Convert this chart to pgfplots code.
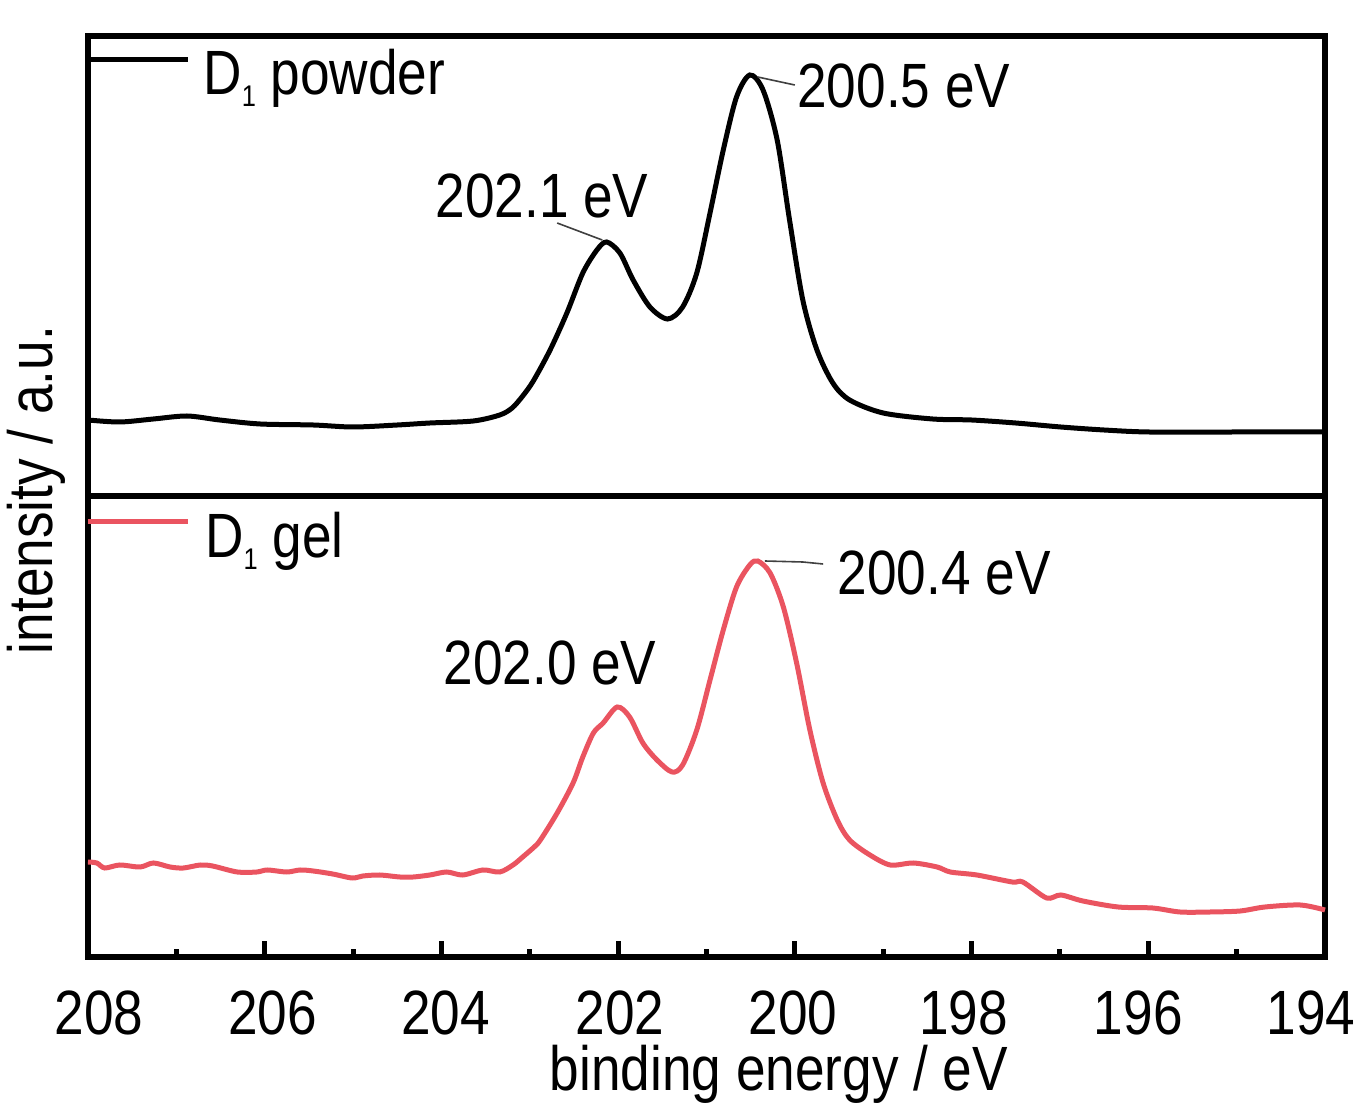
\documentclass[border=0pt]{standalone}
\usepackage{fontspec}
\setmainfont{Liberation Sans}[FakeStretch=0.85]
\usepackage{pgfplots}
\pgfplotsset{compat=1.18}
\definecolor{gelred}{RGB}{234,84,96}
\newcommand{\bigf}{\fontsize{31.4}{36}\selectfont}
\newcommand{\tl}[2]{\makebox[0pt]{\kern#1bp #2}}
\tikzset{
  ann/.style={anchor=base west, inner sep=0pt, font=\bigf},
  lead/.style={line width=0.8bp, black!75},
}
\pgfplotsset{
  panel/.style={scale only axis, width=618.5bp, x dir=reverse, xmin=194, xmax=208, ymin=0,
    axis line style={line width=3bp}, clip=false,
    /pgf/number format/assume math mode=true},
}
\begin{document}
\begin{tikzpicture}
\useasboundingbox (0,0) rectangle (677bp,553.5bp);
% ---------- top panel: D1 powder ----------
\begin{axis}[panel, at={(44bp,305.5bp)}, anchor=south west, height=230bp, ymax=460,
  xtick=\empty, ytick=\empty,
  ylabel={intensity / a.u.},
  ylabel style={at={(axis description cs:-0.0283,0.013)}, anchor=base, font=\bigf}]
\addplot[black, line width=2.5bp, smooth] coordinates {
(208.0,76)(207.64,74)(207.26,77)(206.88,80)(206.51,76)(206.05,72)(205.45,71)(205.0,69)
(204.5,71)(204.13,73)(203.64,75)(203.34,81)(203.2,88)(203.08,100)(202.96,115)(202.77,146)
(202.58,183)(202.40,223)(202.24,246)(202.13,254)(201.98,243)(201.83,216)(201.64,189)
(201.44,177)(201.27,189)(201.11,223)(200.96,283)(200.81,346)(200.66,399)(200.51,421)
(200.36,406)(200.20,356)(200.06,276)(199.91,196)(199.75,146)(199.57,113)(199.38,96)
(199.00,83)(198.44,77)(198.0,76)(197.5,73)(196.99,69)(196.5,66)(195.99,64)(195.0,64)(194.0,64)
};
\draw[black, line width=2.5bp] (rel axis cs:0,0.948) -- (rel axis cs:0.081,0.948);
\node[ann] at (rel axis cs:0.093,0.872) {D\raisebox{-6bp}{\fontsize{15}{15}\selectfont 1} powder};
\node[ann] at (axis cs:199.976,389) {200.5 eV};
\draw[lead] (axis cs:200.42,419) -- (axis cs:200.0,411);
\node[ann] at (axis cs:204.07,279) {202.1 eV};
\draw[lead] (axis cs:202.69,273) -- (axis cs:202.18,256);
\end{axis}
% ---------- bottom panel: D1 gel ----------
\begin{axis}[panel, at={(44bp,75bp)}, anchor=south west, height=230.5bp, ymax=461,
  xtick={194,196,...,208}, minor x tick num=1, ytick=\empty,
  xticklabels={\tl{-14}{194},\tl{-10}{196},\tl{-8}{198},\tl{-2}{200},\tl{2}{202},\tl{4}{204},\tl{8}{206},\tl{11}{208}},
  xtick pos=left, tick align=inside,
  major tick length=8bp, minor tick length=4bp,
  every tick/.append style={black, line width=2.5bp},
  xticklabel style={font=\bigf, inner sep=0pt, anchor=north, yshift=-16.5bp},
  xlabel={binding energy / eV},
  xlabel style={at={(axis description cs:0.5586,0)}, anchor=base, yshift=-66.5bp, font=\bigf}]
\addplot[gelred, line width=2.5bp, smooth] coordinates {
(208.0,95)(207.90,94)(207.81,89)(207.64,92)(207.41,90)(207.26,94)(207.07,90)(206.92,89)
(206.73,92)(206.59,91)(206.31,85)(206.09,85)(205.97,87)(205.75,85)(205.60,87)(205.45,86)
(205.23,83)(205.01,79)(204.89,81)(204.70,82)(204.47,80)(204.32,80)(204.13,82)(203.94,85)
(203.76,82)(203.53,87)(203.34,85)(203.19,92)(203.08,100)(202.95,110)(202.88,117)(202.69,144)
(202.51,174)(202.40,200)(202.28,224)(202.17,234)(202.01,250)(201.87,240)(201.72,214)
(201.56,197)(201.39,185)(201.27,192)(201.11,227)(200.96,277)(200.81,327)(200.66,370)
(200.51,392)(200.42,396)(200.28,384)(200.13,350)(199.98,294)(199.83,227)(199.68,174)
(199.52,137)(199.38,117)(199.15,102)(198.92,92)(198.66,94)(198.39,90)(198.24,85)(197.94,82)
(197.54,75)(197.42,75)(197.15,59)(196.99,62)(196.74,56)(196.34,50)(195.95,49)(195.64,45)
(195.30,45)(194.96,46)(194.68,50)(194.28,52)(194.0,47)
};
\draw[gelred, line width=2.5bp] (rel axis cs:0,0.944) -- (rel axis cs:0.081,0.944);
\node[ann] at (rel axis cs:0.0945,0.866) {D\raisebox{-6bp}{\fontsize{15}{15}\selectfont 1} gel};
\node[ann] at (axis cs:199.52,362) {200.4 eV};
\draw[lead] (axis cs:200.34,396) -- (axis cs:199.91,395) -- (axis cs:199.68,393);
\node[ann] at (axis cs:203.98,272) {202.0 eV};
\end{axis}
\end{tikzpicture}
\end{document}
